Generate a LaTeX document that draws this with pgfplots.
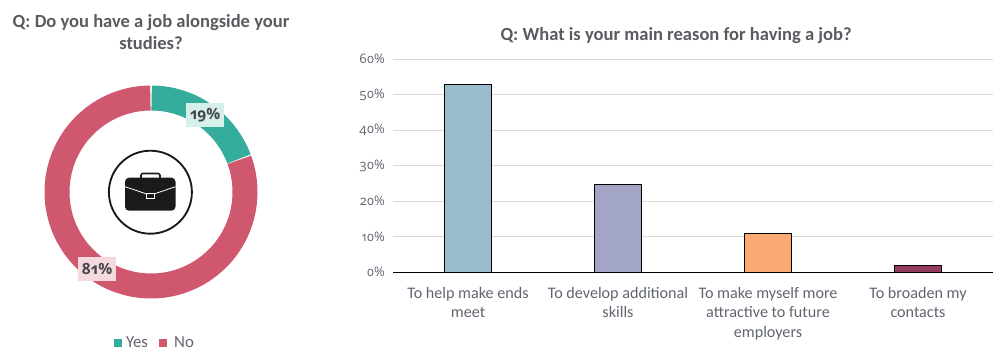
\documentclass[border=0pt]{standalone}
\usepackage{pgfplots}
\pgfplotsset{compat=1.18}
\usepackage{fontspec}
\setmainfont{Carlito}
\newfontfamily\numf[Numbers=OldStyle]{Open Sans}
\definecolor{txt}{HTML}{5F6470}
\definecolor{ttl}{HTML}{595B60}
\definecolor{teal1}{HTML}{35AD9D}
\definecolor{red1}{HTML}{CF586E}
\definecolor{bara}{HTML}{9ABBCB}
\definecolor{barb}{HTML}{A3A5C6}
\definecolor{barc}{HTML}{F9A971}
\definecolor{bard}{HTML}{953B60}
\definecolor{gridc}{HTML}{D9D9D9}
\definecolor{ink}{HTML}{1A1A1A}
\begin{document}
\begin{tikzpicture}[x=0.75pt,y=0.75pt]
\useasboundingbox (0,0) rectangle (1006,354);
% donut: axis units are pixels, centre of the ring at (0,0)
\begin{axis}[
  at={(0pt,0pt)},anchor=south west,scale only axis,
  width=226.5pt,height=265.5pt,
  xmin=-151,xmax=151,ymin=-162,ymax=192,
  hide axis,clip=false,
  legend style={draw=none,fill=none,at={(axis cs:4.5,-151)},anchor=center,
    legend columns=2,font=\fontsize{12.6}{14}\selectfont\color{txt},
    /tikz/every even column/.append style={column sep=6.5pt},
    inner sep=0pt},
]
\addplot[teal1,line width=18.75pt,domain=0.4:69.4,samples=60,smooth,forget plot] ({94*sin(x)},{94*cos(x)});
\addplot[red1,line width=18.75pt,domain=70:359.6,samples=160,smooth,forget plot] ({94*sin(x)},{94*cos(x)});
\addlegendimage{only marks,mark=square*,mark size=2.6pt,teal1,mark options={draw=teal1,fill=teal1}}
\addlegendentry{\hspace{1.5pt}Yes}
\addlegendimage{only marks,mark=square*,mark size=2.6pt,red1,mark options={draw=red1,fill=red1}}
\addlegendentry{\hspace{4pt}No}
\node[fill=teal1!20,minimum width=28.5pt,minimum height=18pt,inner sep=0pt,text=txt!70!black,font=\numf\fontsize{11.6}{14}\selectfont\bfseries] at (axis cs:54,77) {19\%};
\node[fill=red1!22,minimum width=28.5pt,minimum height=18pt,inner sep=0pt,text=txt!70!black,font=\numf\fontsize{11.6}{14}\selectfont\bfseries] at (axis cs:-54,-77) {81\%};
\end{axis}
% titles
\node[align=center,text=ttl,font=\fontsize{13.9}{16.5}\selectfont\bfseries,anchor=center] at (151,322) {Q: Do you have a job alongside your\\studies?};
% briefcase icon
\draw[ink,line width=1.4pt] (150.4,161.8) circle (41.5);
\begin{scope}[ink]
\draw[line width=1.2pt,rounded corners=1.5pt] (141,175.5) -- (141,180.5) -- (160,180.5) -- (160,175.5);
\fill[rounded corners=3pt] (125,143.3) rectangle (175.5,176.3);
\draw[white,line width=0.6pt] (125,167.3) -- (146.7,160) -- (154,160) -- (175.5,167.3);
\fill[ink,draw=white,line width=0.6pt] (146.8,155.5) rectangle (154,161);
\end{scope}
% bars
\begin{axis}[
  at={(294.75pt,61.275pt)},anchor=south west,scale only axis,
  width=450pt,height=159.75pt,
  xmin=-0.5,xmax=3.5,ymin=0,ymax=60,
  ybar,bar width=35.25pt,
  ytick={0,10,20,30,40,50,60},
  yticklabels={0\%,10\%,20\%,30\%,40\%,50\%,60\%},
  xtick={0,1,2,3},
  xticklabels={To help make ends\\meet,To develop additional\\skills,To make myself more\\attractive to future\\employers,To broaden my\\contacts},
  xticklabel style={align=center,text=txt,font=\fontsize{12.1}{14.6}\selectfont,yshift=-7.5pt},
  yticklabel style={text=txt,font=\numf\fontsize{9.8}{12}\selectfont,xshift=-2.5pt},
  major tick length=0pt,
  axis x line=bottom,axis y line=left,
  axis line style={-},
  x axis line style={black,line width=0.9pt},
  y axis line style={draw=none},
  ymajorgrids,grid style={gridc,line width=0.8pt},
  title={Q: What is your main reason for having a job?},
  title style={text=ttl,font=\fontsize{13.9}{14}\selectfont\bfseries,at={(0.4717,1)},yshift=2pt},
]
\addplot[bar shift=0pt,draw=black,line width=0.8pt,fill=bara] coordinates {(0,52.8)};
\addplot[bar shift=0pt,draw=black,line width=0.8pt,fill=barb] coordinates {(1,24.8)};
\addplot[bar shift=0pt,draw=black,line width=0.8pt,fill=barc] coordinates {(2,11)};
\addplot[bar shift=0pt,draw=black,line width=0.8pt,fill=bard] coordinates {(3,2)};
\end{axis}
\end{tikzpicture}
\end{document}
